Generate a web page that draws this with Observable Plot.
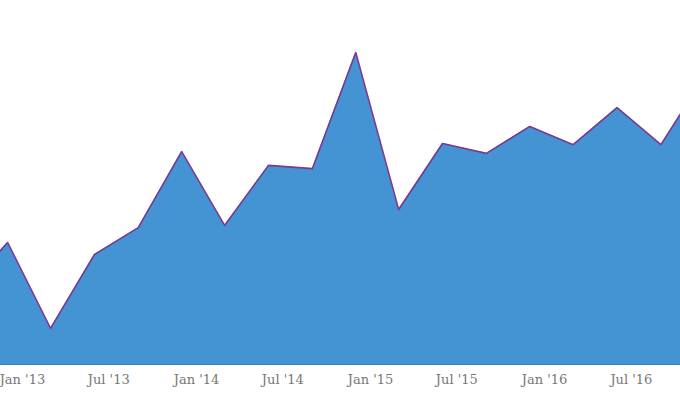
<!DOCTYPE html>
<html>
<head>
<meta charset="utf-8">
<script src="https://cdn.jsdelivr.net/npm/d3@7"></script>
<script src="https://cdn.jsdelivr.net/npm/@observablehq/plot@0.6"></script>
<style>
  html, body { margin: 0; padding: 0; background: #fff; }
  #chart svg { display: block; }
</style>
</head>
<body>
<div id="chart"></div>
<script>
const dates = [
  "2012-09-01", "2012-12-01", "2013-03-01", "2013-06-01", "2013-09-01",
  "2013-12-01", "2014-03-01", "2014-06-01", "2014-09-01", "2014-12-01",
  "2015-03-01", "2015-06-01", "2015-09-01", "2015-12-01", "2016-03-01",
  "2016-06-01", "2016-09-01", "2016-12-01"
];
const values = [
  20.3, 33.5, 9.9, 30.2, 37.6,
  58.5, 38.2, 54.7, 53.8, 85.7,
  42.6, 60.7, 58.0, 65.4, 60.4,
  70.6, 60.4, 79.1
];
const tickDates = ["2013-01-01", "2013-07-01", "2014-01-01", "2014-07-01",
                   "2015-01-01", "2015-07-01", "2016-01-01", "2016-07-01"];
const tickLabels = ["Jan '13", "Jul '13", "Jan '14", "Jul '14",
                    "Jan '15", "Jul '15", "Jan '16", "Jul '16"];

const data = dates.map((d, i) => ({date: new Date(d), value: values[i]}));
const ticks = tickDates.map(d => new Date(d));
const labelOf = new Map(ticks.map((t, i) => [+t, tickLabels[i]]));

const chart = Plot.plot({
  width: 680,
  height: 401,
  marginTop: 0,
  marginLeft: 0,
  marginRight: 0,
  marginBottom: 37,
  style: {fontFamily: "'DejaVu Serif', serif", fontSize: "12px", color: "#777", background: "#fff"},
  x: {type: "utc", domain: [new Date("2012-11-16"), new Date("2016-10-12")], axis: null},
  y: {domain: [0, 100], axis: null},
  marks: [
    Plot.areaY(data, {x: "date", y: "value", fill: "#4494d3", clip: true}),
    Plot.ruleY([0], {stroke: "#3a7fb8", strokeWidth: 1}),
    Plot.lineY(data, {x: "date", y: "value", stroke: "#7a3a92", strokeWidth: 1.6, clip: true}),
    Plot.axisX(ticks, {tickSize: 0, tickPadding: 10, fill: "#777", fontSize: 13,
      tickFormat: d => labelOf.get(+d)})
  ]
});
document.getElementById("chart").append(chart);
</script>
</body>
</html>
